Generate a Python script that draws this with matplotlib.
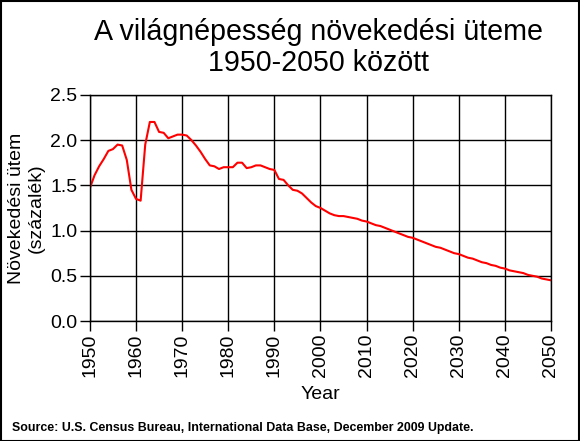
import matplotlib.pyplot as plt
import numpy as np

years = list(range(1950, 2051))
rate = [1.47, 1.61, 1.71, 1.79, 1.88, 1.90, 1.95, 1.94, 1.78, 1.45,
        1.35, 1.33, 1.95, 2.20, 2.20, 2.09, 2.08, 2.02, 2.04, 2.06,
        2.06, 2.05, 2.00, 1.94, 1.87, 1.79, 1.72, 1.71, 1.68, 1.70,
        1.70, 1.70, 1.75, 1.75, 1.69, 1.70, 1.72, 1.72, 1.70, 1.68,
        1.67, 1.57, 1.56, 1.50, 1.45, 1.44, 1.41, 1.36, 1.31, 1.27,
        1.25, 1.22, 1.19, 1.17, 1.16, 1.16, 1.15, 1.14, 1.13, 1.11,
        1.10, 1.08, 1.06, 1.05, 1.03, 1.01, 0.99, 0.97, 0.95, 0.93,
        0.92, 0.90, 0.88, 0.86, 0.84, 0.82, 0.81, 0.79, 0.77, 0.75,
        0.74, 0.72, 0.70, 0.69, 0.67, 0.65, 0.64, 0.62, 0.61, 0.59,
        0.58, 0.56, 0.55, 0.54, 0.53, 0.51, 0.50, 0.49, 0.47, 0.46,
        0.45]
xticks = list(range(1950, 2051, 10))
yticks = [0.0, 0.5, 1.0, 1.5, 2.0, 2.5]

plt.rcParams['font.family'] = ['Liberation Sans', 'DejaVu Sans']

fig = plt.figure(figsize=(5.8, 4.41), dpi=100)
ax = fig.add_axes([0.155, 0.272, 0.795, 0.513])

ax.plot(years, rate, color='red', linewidth=1.5)

ax.set_xlim(1950, 2050)
ax.set_ylim(0, 2.5)
ax.set_xticks(xticks)
ax.set_yticks(yticks)
ax.set_yticklabels([f'{v:.1f}' for v in yticks], fontsize=14)
ax.set_xticklabels([str(v) for v in xticks], fontsize=14, rotation=90)
ax.grid(True, color='black', linewidth=1)
ax.tick_params(direction='out', length=7, width=1, color='black', pad=2)
for s in ax.spines.values():
    s.set_color('black')
    s.set_linewidth(1)

ax.set_xlabel('Year', fontsize=14, labelpad=6)
ax.set_ylabel('Növekedési ütem\n(százalék)', fontsize=14, labelpad=4)

fig.text(0.549, 0.927, 'A világnépesség növekedési üteme', ha='center', va='center', fontsize=20.6)
fig.text(0.549, 0.857, '1950-2050 között', ha='center', va='center', fontsize=20.6)
fig.text(0.02, 0.03, 'Source: U.S. Census Bureau, International Data Base, December 2009 Update.',
         ha='left', va='center', fontsize=8.9, fontweight='bold')

fig.patches.append(plt.Rectangle((0.001, 0.001), 0.997, 0.997, transform=fig.transFigure,
                                 fill=False, edgecolor='black', linewidth=1.5))

fig.savefig('out.png', dpi=100)
